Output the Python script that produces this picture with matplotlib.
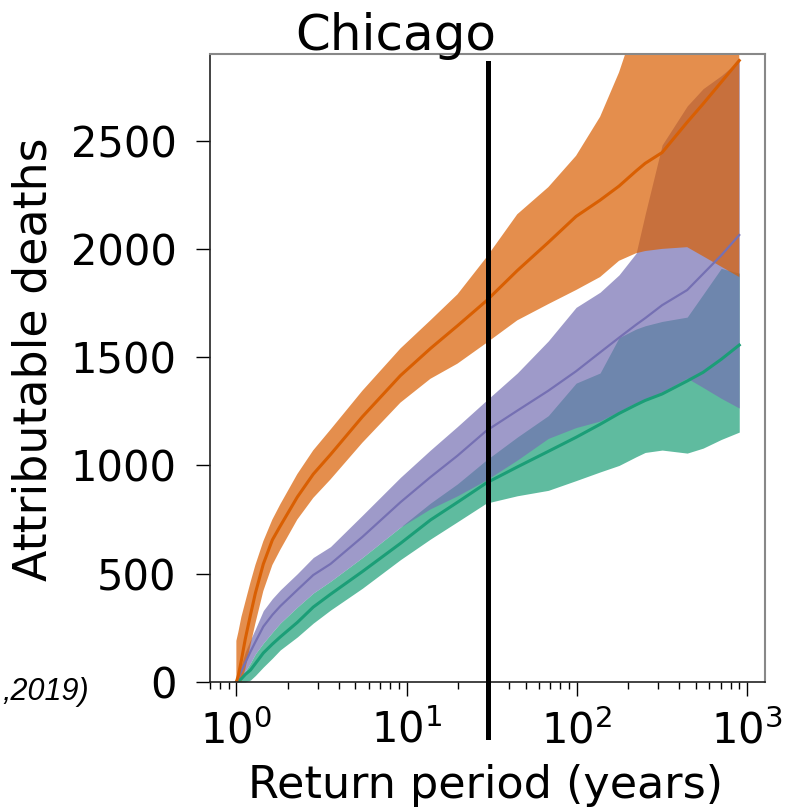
import matplotlib
matplotlib.use("Agg")
import matplotlib.pyplot as plt

# ---- data ----
return_period = [1, 1.027, 1.07, 1.129, 1.21, 1.293, 1.44, 1.627, 1.81, 2.28, 2.83, 3.57,
                 5.5, 9.2, 13.8, 19.9, 29.4, 44.7, 68, 99, 137, 177, 223, 252, 317,
                 445, 552, 705, 900]

orange_med = [0, 30, 100, 200, 310, 410, 545, 656, 720, 854, 960, 1050,
              1225, 1415, 1540, 1645, 1760, 1900, 2030, 2150, 2225, 2290, 2360, 2395, 2445,
              2585, 2670, 2770, 2870]
orange_hi = [190, 230, 300, 370, 460, 540, 650, 750, 820, 960, 1070, 1165,
             1345, 1540, 1670, 1790, 1960, 2160, 2285, 2430, 2610, 2815, 3050, 3150, 3300,
             3500, 3600, 3700, 3800]
orange_lo = [0, 0, 0, 60, 170, 270, 420, 540, 610, 750, 850, 935,
             1105, 1290, 1400, 1470, 1565, 1670, 1745, 1810, 1870, 1945, 1980, 1990, 2000,
             2008, 1966, 1918, 1870]

purple_med = [0, 20, 50, 90, 140, 185, 256, 310, 350, 425, 494, 545,
              670, 830, 946, 1045, 1160, 1253, 1345, 1435, 1522, 1590, 1650, 1680, 1740,
              1810, 1885, 1970, 2064]
purple_hi = [0, 40, 80, 140, 195, 245, 330, 385, 425, 500, 575, 625,
             770, 945, 1071, 1180, 1300, 1427, 1575, 1730, 1800, 1880, 1980, 2160, 2480,
             2660, 2740, 2800, 2870]
purple_lo = [0, 10, 25, 50, 88, 130, 180, 230, 272, 346, 411, 465,
             575, 715, 800, 860, 933, 1025, 1125, 1175, 1205, 1250, 1290, 1305, 1340,
             1403, 1360, 1310, 1265]

green_med = [0, 5, 15, 35, 55, 85, 134, 175, 208, 275, 346, 405,
             510, 640, 748, 830, 919, 993, 1065, 1130, 1190, 1240, 1280, 1300, 1330,
             1390, 1430, 1490, 1556]
green_hi = [0, 10, 25, 50, 88, 130, 180, 230, 272, 346, 411, 465,
            575, 715, 826, 915, 1025, 1131, 1230, 1380, 1427, 1590, 1630, 1645, 1665,
            1685, 1790, 1910, 1888]
green_lo = [0, 0, 0, 0, 9, 30, 69, 110, 148, 208, 272, 332,
            433, 565, 660, 740, 826, 860, 885, 930, 970, 1000, 1040, 1060, 1071,
            1057, 1080, 1120, 1154]

threshold_period = 30
title = "Chicago"
xlabel = "Return period (years)"
ylabel = "Attributable deaths"
citation = ",2019)"

C_GREEN = "#1b9e77"
C_ORANGE = "#d95f02"
C_PURPLE = "#7570b3"

W, H = 788, 807
fig = plt.figure(figsize=(W / 100, H / 100), dpi=100)
ax = fig.add_axes([210 / W, 1 - 682 / H, (765 - 210) / W, (682 - 54) / H])

ax.fill_between(return_period, green_lo, green_hi, color=C_GREEN, alpha=0.7, lw=0)
ax.fill_between(return_period, purple_lo, purple_hi, color=C_PURPLE, alpha=0.7, lw=0)
ax.fill_between(return_period, orange_lo, orange_hi, color=C_ORANGE, alpha=0.7, lw=0)

ax.plot(return_period, green_med, color=C_GREEN, lw=2.2)
ax.plot(return_period, purple_med, color=C_PURPLE, lw=1.6)
ax.plot(return_period, orange_med, color=C_ORANGE, lw=2.2)

ax.set_xscale("log")
ax.set_xlim(0.70, 1275)
ax.set_ylim(0, 2900)

ax.plot([threshold_period, threshold_period], [0.986, -0.088], color="black", lw=3.6,
        transform=ax.get_xaxis_transform(), clip_on=False, zorder=5)

for s in ["left", "bottom"]:
    ax.spines[s].set_color("#222222")
    ax.spines[s].set_linewidth(1.2)
for s in ["top", "right"]:
    ax.spines[s].set_color("#888888")
    ax.spines[s].set_linewidth(1.5)

ax.tick_params(axis="both", which="major", length=10, width=1.0, labelsize=30)
ax.tick_params(axis="both", which="minor", length=5, width=1.0)
ax.tick_params(axis="y", pad=14)
ax.tick_params(axis="x", pad=10)

fig.text(396 / W, 1 - 50 / H, title, fontsize=36, ha="center", va="baseline")
fig.text(486 / W, 1 - 798 / H, xlabel, fontsize=32, ha="center", va="baseline")
fig.text(34 / W, 1 - 359 / H, ylabel, fontsize=33, ha="center", va="center", rotation=90)
fig.text(2 / W, 1 - 700 / H, citation, fontsize=22, ha="left", va="baseline",
         style="italic", family="Liberation Sans")

fig.savefig("out.png", dpi=100)
